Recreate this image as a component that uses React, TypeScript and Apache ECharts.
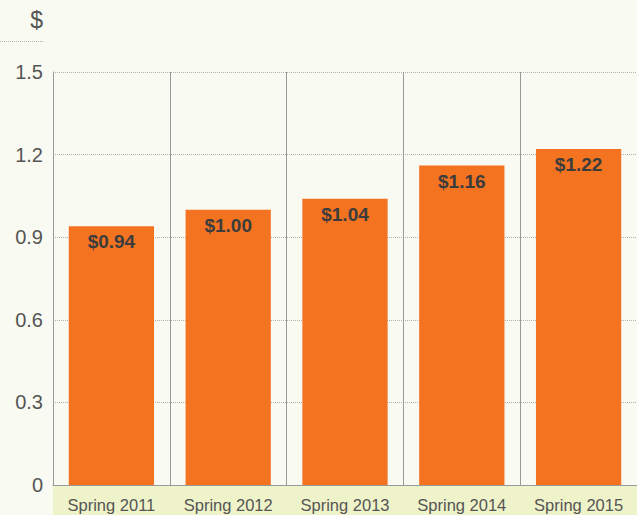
import React, { useEffect, useRef } from "react";
import * as echarts from "echarts";

const categories = ["Spring 2011", "Spring 2012", "Spring 2013", "Spring 2014", "Spring 2015"];
const prices = [0.94, 1.0, 1.04, 1.16, 1.22];
const yMin = 0;
const yMax = 1.5;
const yStep = 0.3;
const unitLabel = "$";

const FONT = "'Liberation Sans', Arial, Helvetica, sans-serif";

export default function App() {
  const ref = useRef<HTMLDivElement>(null);
  useEffect(() => {
    if (!ref.current) return;
    const chart = echarts.init(ref.current, undefined, { renderer: "svg" });
    chart.setOption({
      animation: false,
      backgroundColor: "#f9faf1",
      textStyle: { fontFamily: FONT },
      grid: { left: 53, top: 72, width: 586, height: 413, containLabel: false },
      graphic: [
        {
          type: "rect",
          z: -1,
          shape: { x: 53, y: 486, width: 590, height: 29 },
          style: { fill: "#eff3c9" },
        },
        {
          type: "text",
          x: 43,
          y: 20,
          style: {
            text: unitLabel,
            fontSize: 23,
            fontFamily: FONT,
            fill: "#555555",
            align: "right",
            verticalAlign: "middle",
          },
        },
        {
          type: "line",
          shape: { x1: 0, y1: 41.5, x2: 44, y2: 41.5 },
          style: { stroke: "#b0b0b0", lineWidth: 1, lineDash: [1, 1] },
        },
      ],
      xAxis: {
        type: "category",
        data: categories,
        axisLine: { show: true, lineStyle: { color: "#999999", width: 1 } },
        axisTick: { show: false, interval: 0 },
        splitLine: { show: true, interval: 0, lineStyle: { color: "#999999", width: 1, type: "solid" } },
        axisLabel: { color: "#555555", fontSize: 16.5, margin: 11, interval: 0, hideOverlap: false, fontFamily: FONT },
      },
      yAxis: {
        type: "value",
        min: yMin,
        max: yMax,
        interval: yStep,
        axisLine: { show: true, lineStyle: { color: "#999999", width: 1 } },
        axisTick: { show: false },
        splitLine: { show: true, lineStyle: { color: "#b0b0b0", width: 1, type: [1, 1] } },
        axisLabel: { color: "#555555", fontSize: 20, margin: 10, fontFamily: FONT },
      },
      series: [
        {
          type: "bar",
          data: prices,
          barCategoryGap: "27%",
          itemStyle: { color: "#f37321" },
          label: {
            show: true,
            position: "insideTop",
            distance: 6,
            formatter: (p: any) => "$" + Number(p.value).toFixed(2),
            color: "#3c3c3c",
            fontSize: 19,
            fontWeight: "bold",
            fontFamily: FONT,
          },
        },
      ],
    });
    return () => chart.dispose();
  }, []);
  return (
    <div
      ref={ref}
      style={{ position: "absolute", left: 0, top: 0, width: 637, height: 515 }}
    />
  );
}
